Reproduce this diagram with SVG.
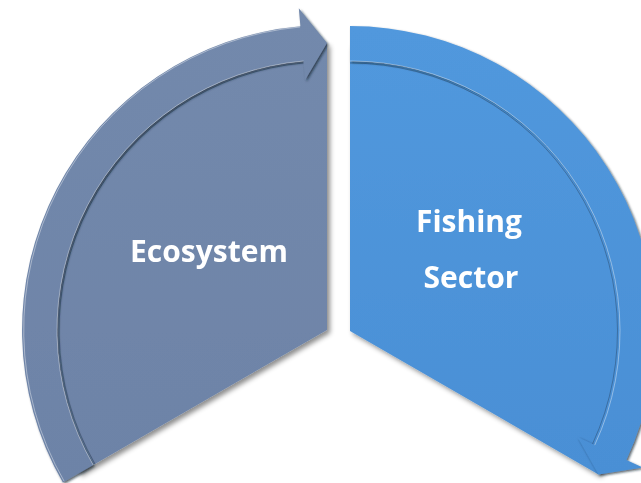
<svg xmlns="http://www.w3.org/2000/svg" width="641" height="483" viewBox="0 0 641 483">
  <defs>
    <filter id="shadow" x="-10%" y="-10%" width="130%" height="130%">
      <feDropShadow dx="3" dy="3" stdDeviation="2.5" flood-color="#000" flood-opacity="0.45"/>
    </filter>
    <filter id="bandShadow" x="-10%" y="-10%" width="130%" height="130%">
      <feDropShadow dx="1.5" dy="1.5" stdDeviation="1" flood-color="#15202e" flood-opacity="0.7"/>
    </filter>
    <linearGradient id="gSlate" x1="0" y1="0" x2="0" y2="1">
      <stop offset="0" stop-color="#7389ac"/>
      <stop offset="1" stop-color="#6d83a7"/>
    </linearGradient>
    <linearGradient id="gBlue" x1="0" y1="0" x2="0" y2="1">
      <stop offset="0" stop-color="#5198dd"/>
      <stop offset="1" stop-color="#4a8fd5"/>
    </linearGradient>
    <style>
      .label { font-family: "Open Sans", "Liberation Sans", sans-serif; font-weight: bold; font-size: 30px; fill: #ffffff; text-anchor: middle; }
      .slate { fill: url(#gSlate); }
      .blue { fill: url(#gBlue); }
      .hl { fill: none; stroke: #ffffff; stroke-opacity: 0.4; stroke-width: 1; }
      .dk { fill: none; stroke: #1e2b3c; stroke-opacity: 0.35; stroke-width: 1; }
    </style>
  </defs>

  <g id="ecosystem" filter="url(#shadow)">
    <path class="slate" d="M327,330 L78.5,473.5 A287,287 0 0 1 327,43 Z"/>
    <text class="label" x="209" y="262">Ecosystem</text>
  </g>

  <g id="fishing-sector" filter="url(#shadow)">
    <path class="blue" d="M350,331 L350,44 A287,287 0 0 1 598.5,474.5 Z"/>
    <text class="label" x="469" y="232">Fishing</text>
    <text class="label" x="471" y="288">Sector</text>
  </g>

  <g id="connectors">
    <path class="dk" d="M95,464 A268,268 0 0 1 303.7,63"/>
    <path class="dk" d="M350,63 A268,268 0 0 1 592.5,444"/>
    <g filter="url(#bandShadow)">
      <path id="arrow-eco-to-fishing" class="slate" d="M62.9,482.5 A305,305 0 0 1 300.4,26.2 L298.8,8.2 L327,43 L305.1,80 L303.5,61 A270,270 0 0 0 93.2,465 Z"/>
      <path id="arrow-fishing-to-eco" class="blue" d="M350,26 A305,305 0 0 1 626.4,459.9 L642.7,467.5 L598.5,474.5 L577.5,437.1 L594.7,445.1 A270,270 0 0 0 350,61 Z"/>
    </g>
    <path class="hl" d="M93.2,465 A270,270 0 0 1 303.5,61"/>
    <path class="hl" d="M64,481 A304,304 0 0 1 300,27"/>
    <path class="hl" d="M350,61 A270,270 0 0 1 594.7,445.1"/>
  </g>
</svg>
